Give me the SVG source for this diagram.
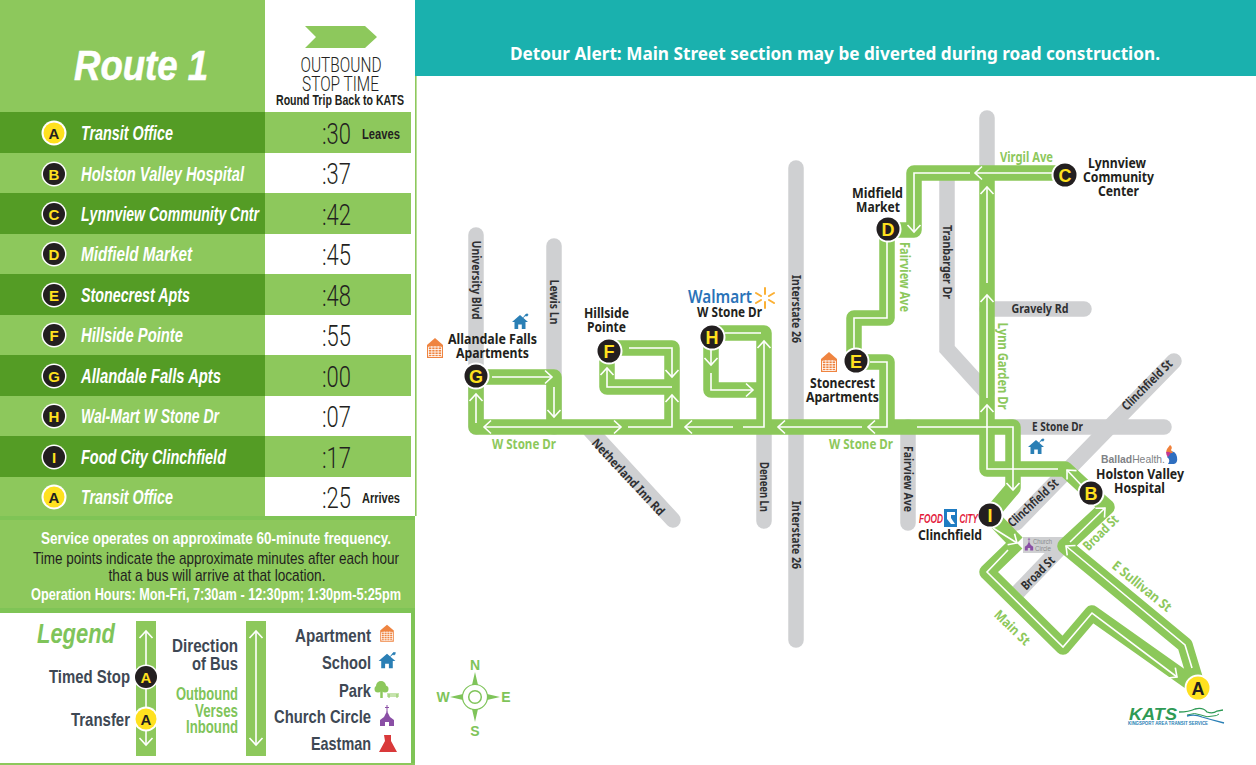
<svg xmlns="http://www.w3.org/2000/svg" width="1256" height="765" viewBox="0 0 1256 765">
<style>
text{font-family:"Liberation Sans",Arial,sans-serif}
.lg{fill:#8dc85c}.dg{fill:#549c25}
.nm{fill:#fff;font-weight:700;font-style:italic;font-size:20px}
.tm{fill:#231f20;font-family:Roboto,"Liberation Sans",sans-serif;font-weight:300;font-size:29px}
.lt{fill:#231f20;font-weight:700;font-size:14px}
.sv{font-size:17px;text-anchor:middle}
.lb{fill:#3e4854;font-weight:700;font-size:18.500px;text-anchor:end}
.og{fill:#7fc45a;font-weight:700;font-size:17.500px;text-anchor:end}
.map{font-family:"Noto Sans","Open Sans",sans-serif;font-weight:700;font-size:14px;fill:#231f20;text-anchor:middle}
.rd{font-family:"Noto Sans","Open Sans",sans-serif;font-weight:700;font-size:12.500px;fill:#2f3033;text-anchor:middle}
.gr{font-family:"Noto Sans","Open Sans",sans-serif;font-weight:700;font-size:13.500px;fill:#8dc85c;text-anchor:middle}
.road{fill:none;stroke:#cfd0d2;stroke-width:15.500;stroke-linecap:round;stroke-linejoin:miter}
.band{fill:none;stroke:#8cc85a;stroke-width:15.500;stroke-linejoin:round}
.w{fill:none;stroke:#fff;stroke-width:1.600;stroke-linejoin:miter}
.a{marker-end:url(#arr)}
.aa{marker-end:url(#arr);marker-start:url(#arr)}
.ltr{font-weight:700;font-size:15px;text-anchor:middle}
.sl{font-weight:700;font-size:18px;text-anchor:middle}
.bk{fill:#231f20}.yl{fill:#ffe11f}
</style>
<defs>
<marker id="arr" markerUnits="userSpaceOnUse" markerWidth="18" markerHeight="18" refX="9" refY="9" orient="auto-start-reverse" overflow="visible">
<path d="M2,2.500 L9,9 L2,15.500" fill="none" stroke="#fff" stroke-width="1.600"/>
</marker>
<g id="apt"><path d="M-8,-4 L0,-11 L8,-4 V9 H-8Z" fill="#ef8440"/><path d="M-6.500,-2 V7.500 H6.500 V-2Z M-3.200,-3 V8 M0,-3 V8 M3.200,-3 V8 M-7,0.500 H7 M-7,3 H7 M-7,5.500 H7" fill="none" stroke="#fff" stroke-width=".8"/></g>
<g id="sch"><path d="M-8,0 L0,-7 L8,0 L5.500,0 V7 H1.800 V2.500 H-1.800 V7 H-5.500 V0Z" fill="#2a7fb5"/><path d="M3,-4 L6,-8 H8 L7.500,-6 H5.500" fill="#2a7fb5" stroke="#2a7fb5" stroke-width=".6"/></g>
<g id="chu"><path d="M0,-12 V-5 M-2,-9.500 H2" stroke="#8a4fa5" stroke-width="1" fill="none"/><path d="M0,-6 L3,0 L7,3 V9 H2 V5 H-2 V9 H-7 V3 L-3,0Z" fill="#8a4fa5"/></g>
</defs>

<rect width="1256" height="765" fill="#fff"/>

<g id="left-panel">
<rect x="0" y="0" width="265" height="112" class="lg"/>
<rect x="415" y="76" width="1.600" height="440" class="lg"/>
<text x="141" y="80" text-anchor="middle" font-size="42" font-weight="700" font-style="italic" fill="#fff" stroke="#fff" stroke-width=".6" textLength="134" lengthAdjust="spacingAndGlyphs">Route 1</text>
<path d="M305,26 H365 L377,37 L365,48 H305 L316,37Z" class="lg"/>
<text x="341" y="72" text-anchor="middle" font-size="21" fill="#231f20" style="font-family:Roboto,'Liberation Sans',sans-serif;font-weight:300" textLength="81" lengthAdjust="spacingAndGlyphs">OUTBOUND</text>
<text x="340.500" y="91" text-anchor="middle" font-size="21" fill="#231f20" style="font-family:Roboto,'Liberation Sans',sans-serif;font-weight:300" textLength="77" lengthAdjust="spacingAndGlyphs">STOP TIME</text>
<text x="340" y="105" text-anchor="middle" font-size="14" font-weight="700" fill="#231f20" textLength="128" lengthAdjust="spacingAndGlyphs">Round Trip Back to KATS</text>
</g>

<g id="row-1"><rect y="112" width="265" height="41" class="dg"/><rect x="265" y="112" width="146" height="41" class="lg"/><circle cx="54" cy="133" r="12.500" fill="#fff"/><circle cx="54" cy="133" r="10.500" class="yl"/><text x="54" y="138.500" class="ltr bk">A</text><text x="81" y="140" class="nm" textLength="92" lengthAdjust="spacingAndGlyphs">Transit Office</text><text x="322" y="144" class="tm" textLength="29" lengthAdjust="spacingAndGlyphs">:30</text><text x="362" y="139" class="lt" textLength="38" lengthAdjust="spacingAndGlyphs">Leaves</text></g>
<g id="row-2"><rect y="153" width="265" height="40" class="lg"/><circle cx="54" cy="174" r="12.500" fill="#fff"/><circle cx="54" cy="174" r="11" class="bk"/><text x="54" y="179.500" class="ltr yl">B</text><text x="81" y="181" class="nm" textLength="163" lengthAdjust="spacingAndGlyphs">Holston Valley Hospital</text><text x="322" y="184" class="tm" textLength="29" lengthAdjust="spacingAndGlyphs">:37</text></g>
<g id="row-3"><rect y="193" width="265" height="41" class="dg"/><rect x="265" y="193" width="146" height="41" class="lg"/><circle cx="54" cy="214" r="12.500" fill="#fff"/><circle cx="54" cy="214" r="11" class="bk"/><text x="54" y="219.500" class="ltr yl">C</text><text x="81" y="221" class="nm" textLength="178" lengthAdjust="spacingAndGlyphs">Lynnview Community Cntr</text><text x="322" y="225" class="tm" textLength="29" lengthAdjust="spacingAndGlyphs">:42</text></g>
<g id="row-4"><rect y="234" width="265" height="40" class="lg"/><circle cx="54" cy="254" r="12.500" fill="#fff"/><circle cx="54" cy="254" r="11" class="bk"/><text x="54" y="259.500" class="ltr yl">D</text><text x="81" y="261" class="nm" textLength="111" lengthAdjust="spacingAndGlyphs">Midfield Market</text><text x="322" y="265" class="tm" textLength="29" lengthAdjust="spacingAndGlyphs">:45</text></g>
<g id="row-5"><rect y="274" width="265" height="41" class="dg"/><rect x="265" y="274" width="146" height="41" class="lg"/><circle cx="54" cy="295" r="12.500" fill="#fff"/><circle cx="54" cy="295" r="11" class="bk"/><text x="54" y="300.500" class="ltr yl">E</text><text x="81" y="302" class="nm" textLength="109" lengthAdjust="spacingAndGlyphs">Stonecrest Apts</text><text x="322" y="306" class="tm" textLength="29" lengthAdjust="spacingAndGlyphs">:48</text></g>
<g id="row-6"><rect y="315" width="265" height="40" class="lg"/><circle cx="54" cy="335" r="12.500" fill="#fff"/><circle cx="54" cy="335" r="11" class="bk"/><text x="54" y="340.500" class="ltr yl">F</text><text x="81" y="342" class="nm" textLength="102" lengthAdjust="spacingAndGlyphs">Hillside Pointe</text><text x="322" y="346" class="tm" textLength="29" lengthAdjust="spacingAndGlyphs">:55</text></g>
<g id="row-7"><rect y="355" width="265" height="41" class="dg"/><rect x="265" y="355" width="146" height="41" class="lg"/><circle cx="54" cy="376" r="12.500" fill="#fff"/><circle cx="54" cy="376" r="11" class="bk"/><text x="54" y="381.500" class="ltr yl">G</text><text x="81" y="383" class="nm" textLength="140" lengthAdjust="spacingAndGlyphs">Allandale Falls Apts</text><text x="322" y="387" class="tm" textLength="29" lengthAdjust="spacingAndGlyphs">:00</text></g>
<g id="row-8"><rect y="396" width="265" height="40" class="lg"/><circle cx="54" cy="416" r="12.500" fill="#fff"/><circle cx="54" cy="416" r="11" class="bk"/><text x="54" y="421.500" class="ltr yl">H</text><text x="81" y="423" class="nm" textLength="138" lengthAdjust="spacingAndGlyphs">Wal-Mart W Stone Dr</text><text x="322" y="427" class="tm" textLength="29" lengthAdjust="spacingAndGlyphs">:07</text></g>
<g id="row-9"><rect y="436" width="265" height="41" class="dg"/><rect x="265" y="436" width="146" height="41" class="lg"/><circle cx="54" cy="457" r="12.500" fill="#fff"/><circle cx="54" cy="457" r="11" class="bk"/><text x="54" y="462.500" class="ltr yl">I</text><text x="81" y="464" class="nm" textLength="145" lengthAdjust="spacingAndGlyphs">Food City Clinchfield</text><text x="322" y="468" class="tm" textLength="29" lengthAdjust="spacingAndGlyphs">:17</text></g>
<g id="row-10"><rect y="477" width="265" height="39" class="lg"/><circle cx="54" cy="497" r="12.500" fill="#fff"/><circle cx="54" cy="497" r="10.500" class="yl"/><text x="54" y="502.500" class="ltr bk">A</text><text x="81" y="504" class="nm" textLength="92" lengthAdjust="spacingAndGlyphs">Transit Office</text><text x="322" y="508" class="tm" textLength="29" lengthAdjust="spacingAndGlyphs">:25</text><text x="362" y="503" class="lt" textLength="38" lengthAdjust="spacingAndGlyphs">Arrives</text></g>

<g id="service-box">
<rect y="516" width="415" height="97" fill="#7fc456"/>
<rect y="520" width="415" height="88" class="lg"/>
<text x="216" y="544" class="sv" font-weight="700" fill="#fff" textLength="350" lengthAdjust="spacingAndGlyphs">Service operates on approximate 60-minute frequency.</text>
<text x="216" y="564" class="sv" fill="#231f20" textLength="366" lengthAdjust="spacingAndGlyphs">Time points indicate the approximate minutes after each hour</text>
<text x="217" y="581" class="sv" fill="#231f20" textLength="217" lengthAdjust="spacingAndGlyphs">that a bus will arrive at that location.</text>
<text x="216" y="600" class="sv" font-weight="700" fill="#fff" font-size="16" textLength="370" lengthAdjust="spacingAndGlyphs">Operation Hours: Mon-Fri, 7:30am - 12:30pm; 1:30pm-5:25pm</text>
</g>

<g id="legend">
<rect x="411" y="613" width="4" height="150" fill="#7fc456"/>
<rect y="763" width="415" height="2" fill="#8dc85c"/>
<text x="37" y="643" font-size="28" font-weight="700" font-style="italic" fill="#7fc45a" textLength="78" lengthAdjust="spacingAndGlyphs">Legend</text>
<rect x="136" y="621" width="20" height="135" class="lg"/>
<rect x="246" y="621" width="20" height="135" class="lg"/>
<path d="M146,631 V745" class="w aa"/>
<path d="M256,631 V745" class="w aa"/>
<circle cx="146" cy="677" r="12.500" fill="#fff"/><circle cx="146" cy="677" r="11" class="bk"/><text x="146" y="682.500" class="ltr yl">A</text>
<circle cx="146" cy="719" r="12.500" fill="#fff"/><circle cx="146" cy="719" r="10.500" class="yl"/><text x="146" y="724.500" class="ltr bk">A</text>
<text x="130" y="683" class="lb" textLength="81" lengthAdjust="spacingAndGlyphs">Timed Stop</text>
<text x="130" y="726" class="lb" textLength="59" lengthAdjust="spacingAndGlyphs">Transfer</text>
<text x="238" y="652" class="lb" textLength="66" lengthAdjust="spacingAndGlyphs">Direction</text>
<text x="238" y="670" class="lb" textLength="46" lengthAdjust="spacingAndGlyphs">of Bus</text>
<text x="238" y="700" class="og" textLength="62" lengthAdjust="spacingAndGlyphs">Outbound</text>
<text x="238" y="717" class="og" textLength="43" lengthAdjust="spacingAndGlyphs">Verses</text>
<text x="238" y="733" class="og" textLength="52" lengthAdjust="spacingAndGlyphs">Inbound</text>
<text x="371" y="642" class="lb" textLength="76" lengthAdjust="spacingAndGlyphs">Apartment</text>
<text x="371" y="669" class="lb" textLength="49" lengthAdjust="spacingAndGlyphs">School</text>
<text x="371" y="697" class="lb" textLength="32" lengthAdjust="spacingAndGlyphs">Park</text>
<text x="371" y="723" class="lb" textLength="97" lengthAdjust="spacingAndGlyphs">Church Circle</text>
<text x="371" y="750" class="lb" textLength="60" lengthAdjust="spacingAndGlyphs">Eastman</text>
<use href="#apt" transform="translate(387,634) scale(.85)"/>
<use href="#sch" transform="translate(387,661) scale(1.050)"/>
<g id="park-icon"><circle cx="381" cy="686" r="5" fill="#8dc85c"/><circle cx="378" cy="689" r="3.500" fill="#8dc85c"/><circle cx="385" cy="689" r="3.500" fill="#8dc85c"/><path d="M381.500,690 V698" stroke="#8dc85c" stroke-width="2.500"/><path d="M387,694 H399 M389,694 V698 M397,694 V698 M387,696 H399" stroke="#8dc85c" stroke-width="1" fill="none"/></g>
<use href="#chu" transform="translate(387,717)"/>
<path d="M384,735 H391 V741 L397,752 H379 L385,741Z" fill="#d9393a"/>
</g>

<g id="header"><rect x="415" y="0" width="841" height="76" fill="#1ab1ae"/>
<text x="835" y="60" text-anchor="middle" font-size="17.500" fill="#fff" style="font-family:'Noto Sans','Open Sans',sans-serif;font-weight:700" textLength="650" lengthAdjust="spacingAndGlyphs">Detour Alert: Main Street section may be diverted during road construction.</text></g>

<g id="roads">
<path class="road" d="M476,235 V427"/>
<path class="road" d="M554,246 V427"/>
<path class="road" d="M796,168 V640"/>
<path class="road" d="M590,430 L673,520"/>
<path class="road" d="M764,427 V521"/>
<path class="road" d="M987,118 V173"/>
<path class="road" d="M947,175 V349 L987,393"/>
<path class="road" d="M987,309 H1084"/>
<path class="road" d="M1010,427 H1164"/>
<path class="road" d="M1174,361 L1016,523"/>
<path class="road" d="M908,427 V523"/>
<path class="road" style="stroke-linecap:butt" d="M1062,546 L1018,592"/>
<rect x="1023" y="537" width="42" height="16" fill="#cfd0d2"/>
</g>

<g id="connectors">
<path class="band" d="M476,376 V427 H1013 V488 L990,515"/>
<path class="band" d="M476,377 H554 V427"/>
<path class="band" d="M609,348 H672 V427"/>
<path class="band" d="M607,351 V387 H672"/>
<path class="band" d="M712,333 H764 V427"/>
<path class="band" d="M711,337 V390 H764"/>
<path class="band" d="M856,362 H887 V427"/>
<path class="band" d="M854,362 V318 H887 V230 H914 V173 H1065"/>
<path class="band" d="M987,173 V469 H1065 L1091,493"/>
<path class="band" d="M990,515 L1017,543"/>
<path class="band" d="M1017,543 L987,572 L1063,647 L1092,613 L1198,688"/>
<path class="band" d="M1198,688 L1185,645 L1065,546 L1107,507 L1091,493"/>

<path class="w a" d="M492,377 H552"/>
<path class="w a" d="M554,387 V417"/>
<path class="w aa" d="M484,427 H621"/>
<path class="w a" d="M476,423 V394"/>
<path class="w a" d="M628,427 H672 V395"/>
<path class="w a" d="M629,348 H672 V377"/>
<path class="w a" d="M672,387 H607 V368"/>
<path class="w a" d="M733,427 H685"/>
<path class="w a" d="M743,427 H764 V341"/>
<path class="w" d="M761,333 H725"/>
<path class="w a" d="M711,349 V365"/>
<path class="w a" d="M711,373 V390 H753"/>
<path class="w a" d="M862,427 H778"/>
<path class="w a" d="M870,362 H887 V427 H868"/>
<path class="w a" d="M917,427 H1013 V490"/>
<path class="w a" d="M1083,487 L1067,470"/>
<path class="w a" d="M1058,469 H987 V405"/>
<path class="w a" d="M987,398 V295"/>
<path class="w a" d="M987,283 V187"/>
<path class="w a" d="M1053,173 H975"/>
<path class="w a" d="M970,173 H914 V232"/>
<path class="w" d="M887,240 V318 H854 V352"/>
<path class="w a" d="M993,528 L1017,543"/>
<path class="w a" d="M1008,550 L987,572 L1063,647 L1092,613 L1177,677"/>
<path class="w a" d="M1192,668 L1185,645 L1066,546"/>
<path class="w a" d="M1070,542 L1105,508"/>
</g>

<g id="road-labels">
<text class="rd" transform="translate(471.500,280) rotate(90)" textLength="79" lengthAdjust="spacingAndGlyphs">University Blvd</text>
<text class="rd" transform="translate(549.500,302) rotate(90)" textLength="45" lengthAdjust="spacingAndGlyphs">Lewis Ln</text>
<text class="rd" transform="translate(791.500,309) rotate(90)" textLength="68" lengthAdjust="spacingAndGlyphs">Interstate 26</text>
<text class="rd" transform="translate(791.500,535) rotate(90)" textLength="68" lengthAdjust="spacingAndGlyphs">Interstate 26</text>
<text class="rd" transform="translate(759.500,487) rotate(90)" textLength="50" lengthAdjust="spacingAndGlyphs">Deneen Ln</text>
<text class="rd" transform="translate(942.500,262) rotate(90)" textLength="74" lengthAdjust="spacingAndGlyphs">Tranbarger Dr</text>
<text class="rd" transform="translate(903.500,479) rotate(90)" textLength="66" lengthAdjust="spacingAndGlyphs">Fairview Ave</text>
<text class="rd" x="1040" y="313" textLength="57" lengthAdjust="spacingAndGlyphs">Gravely Rd</text>
<text class="rd" x="1057.500" y="431" textLength="51" lengthAdjust="spacingAndGlyphs">E Stone Dr</text>
<text class="rd" transform="translate(1150,388) rotate(-45)" textLength="66" lengthAdjust="spacingAndGlyphs">Clinchfield St</text>
<text class="rd" transform="translate(1036,506) rotate(-43)" textLength="64" lengthAdjust="spacingAndGlyphs">Clinchfield St</text>
<text class="rd" transform="translate(625,480) rotate(47)" textLength="100" lengthAdjust="spacingAndGlyphs">Netherland Inn Rd</text>
<text class="rd" transform="translate(1041,576) rotate(-45)" textLength="42" lengthAdjust="spacingAndGlyphs">Broad St</text>
<text class="gr" transform="translate(899.500,277) rotate(90)" textLength="70" lengthAdjust="spacingAndGlyphs">Fairview Ave</text>
<text class="gr" transform="translate(997.500,366) rotate(90)" textLength="87" lengthAdjust="spacingAndGlyphs">Lynn Garden Dr</text>
<text class="gr" x="1026.500" y="162" textLength="53" lengthAdjust="spacingAndGlyphs">Virgil Ave</text>
<text class="gr" x="524" y="449" textLength="64" lengthAdjust="spacingAndGlyphs">W Stone Dr</text>
<text class="gr" x="861" y="449" textLength="64" lengthAdjust="spacingAndGlyphs">W Stone Dr</text>
<text class="gr" transform="translate(1104,536) rotate(-45)" textLength="44" lengthAdjust="spacingAndGlyphs">Broad St</text>
<text class="gr" transform="translate(1139,590) rotate(39)" textLength="72" lengthAdjust="spacingAndGlyphs">E Sullivan St</text>
<text class="gr" transform="translate(1009,631) rotate(44)" textLength="44" lengthAdjust="spacingAndGlyphs">Main St</text>
</g>

<g id="church-circle">
<use href="#chu" transform="translate(1029,545) scale(.6)"/>
<text x="1033" y="544" font-size="6.500" fill="#8a8c8e" textLength="19" lengthAdjust="spacingAndGlyphs">Church</text>
<text x="1035" y="551" font-size="6.500" fill="#8a8c8e" textLength="16" lengthAdjust="spacingAndGlyphs">Circle</text>
</g>

<g id="stop-A"><circle cx="1198" cy="688" r="13.500" fill="#fff"/><circle cx="1198" cy="688" r="11.500" class="yl"/><text x="1198" y="694.500" class="sl bk">A</text></g>
<g id="stop-B"><circle cx="1091" cy="493" r="13.500" fill="#fff"/><circle cx="1091" cy="493" r="11.500" class="bk"/><text x="1091" y="499.500" class="sl yl">B</text>
<text class="map" x="1140" y="479" textLength="88" lengthAdjust="spacingAndGlyphs">Holston Valley</text><text class="map" x="1139.500" y="493" textLength="51" lengthAdjust="spacingAndGlyphs">Hospital</text>
<text x="1101" y="463" font-size="11.500" fill="#808285" textLength="64" lengthAdjust="spacingAndGlyphs"><tspan font-weight="700">Ballad</tspan>Health.</text>
<path d="M1170,451 q6,0 7,6 q1,6 -3,7 h-6 q3,-4 -1,-7 l2,-3Z" fill="#2f6fc0"/>
<path d="M1170,445 q3,2 1,5 l2,3 h-5 q-1,-2 -2,-1 l1,-3Z" fill="#f0803a"/>
<path d="M1166,452 q2,-1 5,1 l-3,4 q-2,-2 -2,-5Z" fill="#c2388f"/>
</g>
<g id="stop-C"><circle cx="1065" cy="175" r="13.500" fill="#fff"/><circle cx="1065" cy="175" r="11.500" class="bk"/><text x="1065" y="181.500" class="sl yl">C</text>
<text class="map" x="1117" y="168" textLength="58" lengthAdjust="spacingAndGlyphs">Lynnview</text><text class="map" x="1118.500" y="182" textLength="71" lengthAdjust="spacingAndGlyphs">Community</text><text class="map" x="1118.500" y="196" textLength="41" lengthAdjust="spacingAndGlyphs">Center</text></g>
<g id="stop-D"><circle cx="888" cy="229" r="13.500" fill="#fff"/><circle cx="888" cy="229" r="11.500" class="bk"/><text x="888" y="235.500" class="sl yl">D</text>
<text class="map" x="877.500" y="198" textLength="51" lengthAdjust="spacingAndGlyphs">Midfield</text><text class="map" x="878" y="212" textLength="44" lengthAdjust="spacingAndGlyphs">Market</text></g>
<g id="stop-E"><circle cx="856" cy="361" r="13.500" fill="#fff"/><circle cx="856" cy="361" r="11.500" class="bk"/><text x="856" y="367.500" class="sl yl">E</text>
<use href="#apt" transform="translate(829,363)"/>
<text class="map" x="842.500" y="388" textLength="65" lengthAdjust="spacingAndGlyphs">Stonecrest</text><text class="map" x="842.500" y="402" textLength="73" lengthAdjust="spacingAndGlyphs">Apartments</text></g>
<g id="stop-F"><circle cx="609" cy="351" r="13.500" fill="#fff"/><circle cx="609" cy="351" r="11.500" class="bk"/><text x="609" y="357.500" class="sl yl">F</text>
<text class="map" x="606.500" y="318" textLength="45" lengthAdjust="spacingAndGlyphs">Hillside</text><text class="map" x="606.500" y="332" textLength="39" lengthAdjust="spacingAndGlyphs">Pointe</text></g>
<g id="stop-G"><circle cx="476" cy="376" r="13.500" fill="#fff"/><circle cx="476" cy="376" r="11.500" class="bk"/><text x="476" y="382.500" class="sl yl">G</text>
<use href="#apt" transform="translate(435,349)"/><use href="#sch" transform="translate(520,322)"/>
<text class="map" x="492.500" y="344" textLength="89" lengthAdjust="spacingAndGlyphs">Allandale Falls</text><text class="map" x="492.500" y="358" textLength="73" lengthAdjust="spacingAndGlyphs">Apartments</text></g>
<g id="stop-H"><circle cx="712" cy="337" r="13.500" fill="#fff"/><circle cx="712" cy="337" r="11.500" class="bk"/><text x="712" y="343.500" class="sl yl">H</text>
<text x="688" y="303" font-size="17" fill="#2a73b8" style="font-family:'Noto Sans',sans-serif;font-weight:600" textLength="64" lengthAdjust="spacingAndGlyphs">Walmart</text>
<path d="M765,288 V294 M765,302 V308 M756,293 L761,296 M769,300 L774,303 M756,303 L761,300 M769,296 L774,293" stroke="#fbb034" stroke-width="2" stroke-linecap="round" fill="none"/>
<text class="map" x="729.500" y="317" textLength="65" lengthAdjust="spacingAndGlyphs">W Stone Dr</text></g>
<g id="stop-I"><circle cx="990" cy="515" r="13.500" fill="#fff"/><circle cx="990" cy="515" r="11.500" class="bk"/><text x="990" y="521.500" class="sl yl">I</text>
<text x="919" y="523" font-size="12" font-weight="700" font-style="italic" fill="#e31b3c" textLength="24" lengthAdjust="spacingAndGlyphs">FOOD</text>
<rect x="944" y="509" width="13" height="18" fill="#1f7cc2"/><path d="M947,512 H955 V515 H951 V518 L955,524 H951 L947,519Z" fill="#fff"/>
<text x="959.500" y="523" font-size="12" font-weight="700" font-style="italic" fill="#e31b3c" textLength="18.500" lengthAdjust="spacingAndGlyphs">CITY</text>
<text class="map" x="950" y="540" textLength="64" lengthAdjust="spacingAndGlyphs">Clinchfield</text></g>

<g id="school-2"><use href="#sch" transform="translate(1036,447)"/></g>

<g id="kats-logo">
<text x="1129" y="720" font-size="16" font-weight="700" font-style="italic" fill="#2e9a55" textLength="48" lengthAdjust="spacingAndGlyphs">KATS</text>
<path d="M1179,712 q10,0 16,-3 q8,-2 12,3 q6,2 10,-1 l6,-1" fill="none" stroke="#2e9a55" stroke-width="1.300"/>
<path d="M1187,715 q8,-3 14,0 q6,3 12,1 q4,0 6,-2" fill="none" stroke="#2e9a55" stroke-width="1"/>
<path d="M1187,716 q8,-2 15,1 q10,3 22,6" fill="none" stroke="#2a7fb5" stroke-width="1.300"/>
<text x="1128" y="725" font-size="4.500" font-weight="700" fill="#2a7fb5" textLength="80" lengthAdjust="spacingAndGlyphs">KINGSPORT AREA TRANSIT SERVICE</text>
</g>

<g id="compass" fill="#7fc45a">
<circle cx="475" cy="697" r="12.500" fill="none" stroke="#7fc45a" stroke-width="1.200"/>
<circle cx="475" cy="697" r="6.300" fill="none" stroke="#7fc45a" stroke-width="1.500"/>
<path d="M475,672 L478,685 H472Z M475,722 L478,709 H472Z M450,697 L463,694 V700Z M500,697 L487,694 V700Z"/>
<g font-weight="700" font-size="14" text-anchor="middle"><text x="475" y="670">N</text><text x="475" y="736">S</text><text x="443" y="702">W</text><text x="506" y="702">E</text></g>
</g>
</svg>
